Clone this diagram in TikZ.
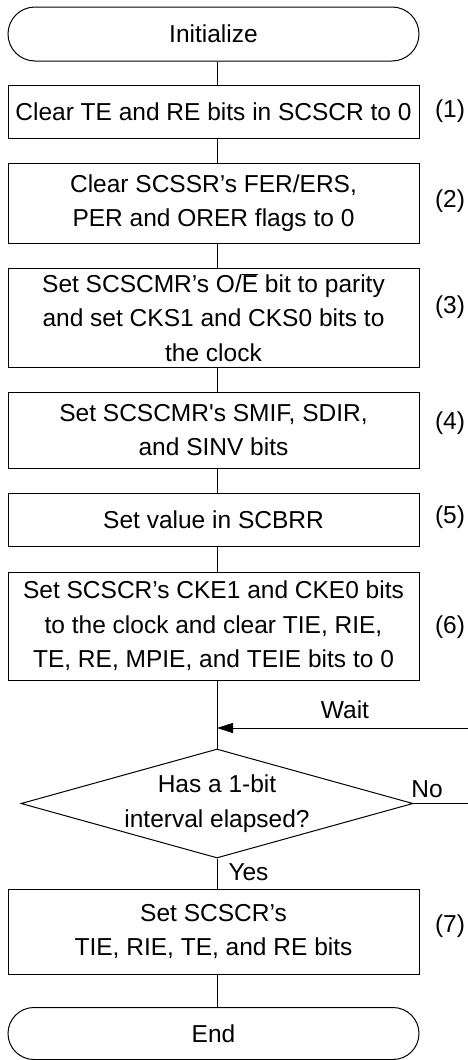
\documentclass[tikz,border=0pt]{standalone}
\usepackage{fontspec}
\newfontfamily\arial{Liberation Sans}
\usetikzlibrary{shapes.misc,shapes.geometric,arrows.meta}
\begin{document}
\begin{tikzpicture}[x=1pt,y=-1pt,line width=1pt,
  every node/.style={font=\arial\fontsize{24.5}{34.5}\selectfont, inner sep=0pt},
  term/.style={draw, rounded rectangle, minimum width=411pt, align=center},
  proc/.style={draw, rectangle, minimum width=411pt, align=center},
  tag/.style={anchor=center},
  link/.style={draw},
  arr/.style={-{Triangle[length=16pt,width=10pt]}}]
\useasboundingbox (0,0) rectangle (468,1060);
\coordinate (spine) at (217,0);
\node[term, minimum height=54pt] (init) at (213.5,34) {Initialize};
\node[proc, minimum height=53pt] (b1) at (213.5,111.5) {Clear TE and RE bits in SCSCR to 0};
\node[proc, minimum height=80pt] (b2) at (213.5,203) {Clear SCSSR’s FER/ERS,\\PER and ORER flags to 0};
\node[proc, minimum height=99pt] (b3) at (213.5,317.5) {Set SCSCMR’s O/$\overline{\hbox{E}}$ bit to parity\\and set CKS1 and CKS0 bits to\\the clock};
\node[proc, minimum height=76pt] (b4) at (213.5,430) {Set SCSCMR's SMIF, SDIR,\\and SINV bits};
\node[proc, minimum height=53pt] (b5) at (213.5,519.5) {Set value in SCBRR};
\node[proc, minimum height=108pt] (b6) at (213.5,626) {Set SCSCR’s CKE1 and CKE0 bits\\to the clock and clear TIE, RIE,\\TE, RE, MPIE, and TEIE bits to 0};
\node[draw, diamond, minimum width=392pt, minimum height=109pt] (dec) at (217,803.5) {};
\node[align=center] (dectxt) at (dec.center) {Has a 1-bit\\interval elapsed?};
\node[proc, minimum height=85pt] (b7) at (213.5,931.5) {Set SCSCR’s\\TIE, RIE, TE, and RE bits};
\node[term, minimum height=52pt] (end) at (213.5,1033.5) {End};
% step tags
\node[tag] (t1) at (450,111) {(1)};
\node[tag] (t2) at (450,201) {(2)};
\node[tag] (t3) at (450,307) {(3)};
\node[tag] (t4) at (450,423) {(4)};
\node[tag] (t5) at (450,517) {(5)};
\node[tag] (t6) at (450,627) {(6)};
\node[tag] (t7) at (450,926) {(7)};
% labels
\node (wait) at (345,710) {Wait};
\node (no) at (427,789) {No};
\node[anchor=west] (yes) at (228,872) {Yes};
% connectors
\coordinate (wr) at (468,728);
\coordinate (wj) at (217,728);
\draw (init.south -| spine) -- (b1.north -| spine);
\draw (b1.south -| spine) -- (b2.north -| spine);
\draw (b2.south -| spine) -- (b3.north -| spine);
\draw (b3.south -| spine) -- (b4.north -| spine);
\draw (b4.south -| spine) -- (b5.north -| spine);
\draw (b5.south -| spine) -- (b6.north -| spine);
\draw (b6.south -| spine) -- (dec.north);
\draw (dec.south) -- (b7.north -| spine);
\draw (b7.south -| spine) -- (end.north -| spine);
\draw[arr] (wr) -- (wj);
\draw (dec.east) -- (dec.east -| wr);
\end{tikzpicture}
\end{document}
